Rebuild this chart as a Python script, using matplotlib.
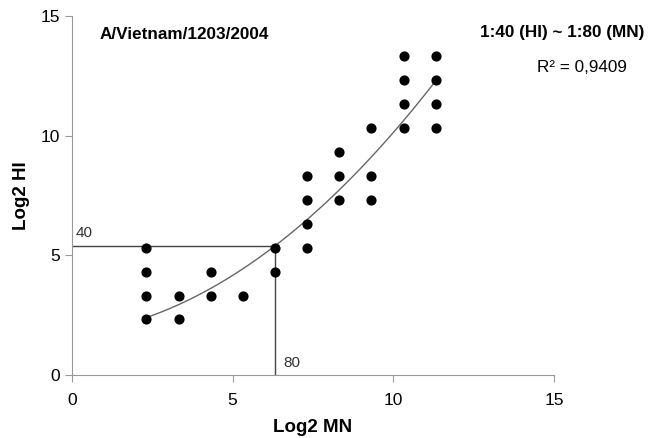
import matplotlib.pyplot as plt
import numpy as np

plt.rcParams['font.family'] = ['Liberation Sans', 'DejaVu Sans']

# log2 titers (MN on x, HI on y)
mn = [2.32, 2.32, 2.32, 2.32,
      3.32, 3.32,
      4.32, 4.32,
      5.32,
      6.32, 6.32,
      7.32, 7.32, 7.32, 7.32,
      8.32, 8.32, 8.32,
      9.32, 9.32, 9.32,
      10.32, 10.32, 10.32, 10.32,
      11.32, 11.32, 11.32, 11.32]
hi = [5.32, 4.32, 3.32, 2.32,
      3.32, 2.32,
      4.32, 3.32,
      3.32,
      5.32, 4.32,
      8.32, 7.32, 6.32, 5.32,
      9.32, 8.32, 7.32,
      10.32, 8.32, 7.32,
      13.32, 12.32, 11.32, 10.32,
      13.32, 12.32, 11.32, 10.32]

# points (2nd order polynomial)
trend_mn = [2.32, 6.32, 11.32]
trend_hi = [2.4, 5.4, 12.3]

# cut-off lines (log2 of 40 HI and 80 MN)
cut_mn = 6.32
cut_hi = 5.4

fig = plt.figure(figsize=(6.48, 4.38), dpi=100)
ax = fig.add_axes([0.111, 0.144, 0.744, 0.819])

ax.scatter(mn, hi, s=40, color='black', zorder=3)

coef = np.polyfit(trend_mn, trend_hi, 2)
xs = np.linspace(min(trend_mn), max(trend_mn), 100)
ax.plot(xs, np.polyval(coef, xs), color='#666666', lw=1)

ax.plot([0, cut_mn], [cut_hi, cut_hi], color='#444444', lw=1)
ax.plot([cut_mn, cut_mn], [0, cut_hi], color='#444444', lw=1)
ax.text(0.1, cut_hi + 0.35, '40', fontsize=11, color='#333333')
ax.text(cut_mn + 0.25, 0.35, '80', fontsize=11, color='#333333')

ax.set_xlim(0, 15)
ax.set_ylim(0, 15)
ax.set_xticks([0, 5, 10, 15])
ax.set_yticks([0, 5, 10, 15])
for s in ['top', 'right']:
    ax.spines[s].set_visible(False)
for s in ['left', 'bottom']:
    ax.spines[s].set_color('#999999')
ax.tick_params(colors='#999999', labelcolor='black', labelsize=12.5, length=5)
ax.tick_params(axis='x', pad=8)

ax.set_xlabel('Log2 MN', fontsize=13.5, fontweight='bold', labelpad=8)
ax.set_ylabel('Log2 HI', fontsize=13.5, fontweight='bold', labelpad=8)

ax.text(0.87, 14.06, 'A/Vietnam/1203/2004', fontsize=12.3, fontweight='bold')
fig.text(0.995, 0.916, '1:40 (HI) ~ 1:80 (MN)', fontsize=12.3,
         fontweight='bold', ha='right')
fig.text(0.898, 0.836, 'R² = 0,9409', fontsize=12.3, ha='center')

plt.savefig('out.png')
